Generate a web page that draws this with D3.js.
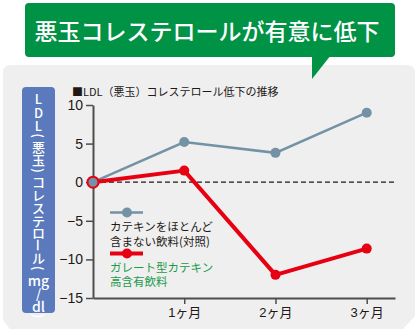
<!DOCTYPE html>
<html><head><meta charset="utf-8">
<script src="https://cdn.jsdelivr.net/npm/d3@7"></script>
<style>
html,body{margin:0;padding:0;background:#fff;}
svg{display:block;font-family:"Liberation Sans","Noto Sans CJK JP",sans-serif;}
.jp{font-family:"Noto Sans CJK JP",sans-serif;}
</style></head>
<body>
<svg id="c" width="417" height="329"></svg>
<script>
const months = [0, 1, 2, 3];
const monthLabels = ["", "1ヶ月", "2ヶ月", "3ヶ月"];
const controlValues = [0, 5.2, 3.8, 9.0];
const catechinValues = [0, 1.5, -12.0, -8.6];
const yTicks = [10, 5, 0, -5, -10, -15];
const seriesNames = [["カテキンをほとんど", "含まない飲料(対照)"], ["ガレート型カテキン", "高含有飲料"]];
const headline = "悪玉コレステロールが有意に低下";
const chartTitle = "■LDL（悪玉）コレステロール低下の推移";
// glyph, advance, rotate?
const yLabelGlyphs = [["L",14,0],["D",14,0],["L",12,0],["(",9,1],["悪",13,0],["玉",13,0],[")",9,1],["コ",13,0],["レ",12.5,0],["ス",13,0],["テ",13,0],["ロ",12.5,0],["ー",12,1],["ル",12.5,0],["(",9,1],["mg",14,0],["/",13,0],["dl",12,0],[")",9,1]];

const svg = d3.select("#c");
const colGray = "#7393a4", colRed = "#e60012", colGreen = "#009245";

// panel
svg.append("path")
  .attr("d", "M3,73 Q3,65 11,65 L407,65 Q415,65 415,73 L415,316 L403,329 L10,329 L3,320 Z")
  .attr("fill", "#efefef");

// banner
svg.append("rect").attr("x", 25).attr("y", 3).attr("width", 370).attr("height", 54).attr("rx", 4).attr("fill", colGreen);
svg.append("path").attr("d", "M312,55 L312,79 L331,55 Z").attr("fill", colGreen);
svg.append("text").attr("class", "jp").attr("x", 207).attr("y", 40).attr("text-anchor", "middle")
  .attr("fill", "#fff").attr("font-size", 23).attr("font-weight", 500).text(headline);

// y label box
svg.append("rect").attr("x", 22).attr("y", 87).attr("width", 33).attr("height", 226).attr("rx", 4).attr("fill", "#5b79bd");
let gy = 91;
yLabelGlyphs.forEach(([g, adv, rot]) => {
  const cy = gy + adv / 2;
  const t = svg.append("text").attr("class", "jp").attr("x", 38.5).attr("y", cy).attr("text-anchor", "middle")
    .attr("fill", "#fff").attr("font-size", g.length > 1 ? 14 : 13).attr("font-weight", 500)
    .attr("dominant-baseline", "central").text(g);
  if (rot) t.attr("transform", `rotate(90,38.5,${cy})`);
  gy += adv;
});

// scales
const x = d3.scaleLinear().domain([0, 3.31]).range([93, 395]);
const y = d3.scaleLinear().domain([-15, 10]).range([298, 105]);

// title
svg.append("text").attr("class", "jp").attr("x", 72).attr("y", 96).attr("font-size", 11).attr("fill", "#231815").text(chartTitle);

// y axis
const ya = svg.append("g").attr("transform", `translate(${x(0)},0)`)
  .call(d3.axisLeft(y).tickValues(yTicks).tickSize(7).tickSizeOuter(0).tickPadding(3));
ya.select(".domain").attr("stroke", "#4d4d4d").attr("stroke-width", 2);
ya.selectAll(".tick line").attr("stroke", "#4d4d4d").attr("stroke-width", 1.5);
ya.selectAll(".tick text").attr("font-size", 14).attr("fill", "#231815").attr("font-family", "Liberation Sans, sans-serif");

// x axis
const xa = svg.append("g").attr("transform", `translate(0,${y(-15)})`)
  .call(d3.axisBottom(x).tickValues([1, 2, 3]).tickFormat(d => monthLabels[d]).tickSize(6).tickSizeOuter(0).tickPadding(4));
xa.select(".domain").attr("stroke", "#4d4d4d").attr("stroke-width", 2);
xa.selectAll(".tick line").attr("stroke", "#4d4d4d").attr("stroke-width", 1.5);
xa.selectAll(".tick text").attr("font-size", 13).attr("fill", "#231815").attr("font-family", "Liberation Sans, Noto Sans CJK JP, sans-serif");

// zero line
svg.append("line").attr("x1", x(0)).attr("x2", x(3.31)).attr("y1", y(0)).attr("y2", y(0))
  .attr("stroke", "#231815").attr("stroke-width", 1.3).attr("stroke-dasharray", "5,3");

const line = d3.line().x((d, i) => x(months[i])).y(d => y(d));

// control series
svg.append("path").datum(controlValues).attr("d", line).attr("fill", "none").attr("stroke", colGray).attr("stroke-width", 2.5);
svg.selectAll(".pg").data(controlValues.slice(1)).enter().append("circle")
  .attr("cx", (d, i) => x(months[i + 1])).attr("cy", d => y(d)).attr("r", 5).attr("fill", colGray);

// catechin series
svg.append("path").datum(catechinValues).attr("d", line).attr("fill", "none").attr("stroke", colRed).attr("stroke-width", 4).attr("stroke-linejoin", "round");
svg.selectAll(".pr").data(catechinValues.slice(1)).enter().append("circle")
  .attr("cx", (d, i) => x(months[i + 1])).attr("cy", d => y(d)).attr("r", 5).attr("fill", colRed);

// origin marker
svg.append("circle").attr("cx", x(months[0])).attr("cy", y(controlValues[0])).attr("r", 5.5)
  .attr("fill", colGray).attr("stroke", colRed).attr("stroke-width", 2);

// legend
const lg = svg.append("g");
lg.append("line").attr("x1", 110).attr("x2", 143).attr("y1", 212.5).attr("y2", 212.5).attr("stroke", colGray).attr("stroke-width", 2.5);
lg.append("circle").attr("cx", 127).attr("cy", 212.5).attr("r", 5).attr("fill", colGray);
lg.append("text").attr("class", "jp").attr("x", 110).attr("y", 231).attr("font-size", 11.5).attr("fill", "#231815").text(seriesNames[0][0]);
lg.append("text").attr("class", "jp").attr("x", 110).attr("y", 245.5).attr("font-size", 11.5).attr("fill", "#231815").text(seriesNames[0][1]);
lg.append("line").attr("x1", 110).attr("x2", 143).attr("y1", 253.5).attr("y2", 253.5).attr("stroke", colRed).attr("stroke-width", 4);
lg.append("circle").attr("cx", 127).attr("cy", 253.5).attr("r", 5).attr("fill", colRed);
lg.append("text").attr("class", "jp").attr("x", 110).attr("y", 272).attr("font-size", 11.5).attr("fill", "#1a9a4a").text(seriesNames[1][0]);
lg.append("text").attr("class", "jp").attr("x", 110).attr("y", 286).attr("font-size", 11.5).attr("fill", "#1a9a4a").text(seriesNames[1][1]);
</script>
</body></html>
